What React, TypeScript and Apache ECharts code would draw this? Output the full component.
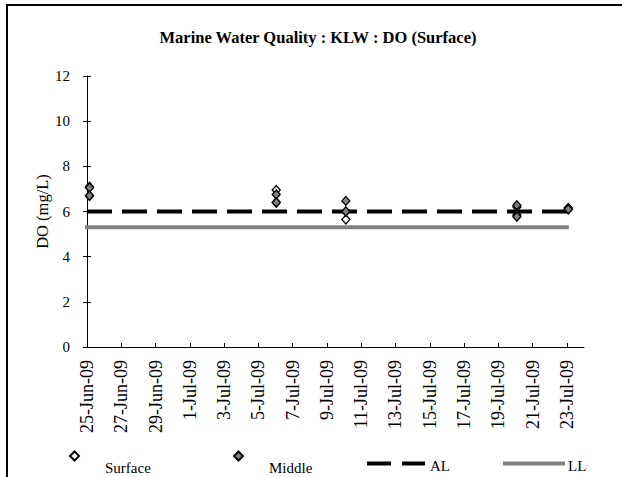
import React, { useEffect, useRef } from 'react';
import * as echarts from 'echarts';

const BASE_DATE = '2009-06-25T00:00:00Z';
const xTickLabels = ['25-Jun-09', '27-Jun-09', '29-Jun-09', '1-Jul-09', '3-Jul-09', '5-Jul-09', '7-Jul-09', '9-Jul-09', '11-Jul-09', '13-Jul-09', '15-Jul-09', '17-Jul-09', '19-Jul-09', '21-Jul-09', '23-Jul-09'];
const AXIS_MAX_DAYS = 29;

const sampleDates = [
  '2009-06-25T03:30:00Z', '2009-06-25T03:30:00Z',
  '2009-07-06T01:00:00Z', '2009-07-06T01:00:00Z',
  '2009-07-10T02:30:00Z', '2009-07-10T02:30:00Z',
  '2009-07-20T02:00:00Z', '2009-07-20T02:00:00Z',
  '2009-07-23T02:00:00Z', '2009-07-23T02:00:00Z',
];
const surfaceDO = [7.1, 6.7, 6.95, 6.4, 5.65, 6.0, 6.2, 5.85, 6.1, 6.15];
const middleDO = [7.05, 6.7, 6.75, 6.4, 6.47, 6.0, 6.28, 5.77, 6.15, 6.1];

const limitDates = ['2009-06-25T00:00:00Z', '2009-07-23T00:00:00Z'];
const alValues = [6, 6];
const llValues = [5.3, 5.3];

const dayOffset = (d: string) => (Date.parse(d) - Date.parse(BASE_DATE)) / 86400000;
const toPairs = (dates: string[], vals: number[]) => vals.map((v, i) => [dayOffset(dates[i]), v]);

const FONT = '"Liberation Serif", "Times New Roman", serif';

export default function App() {
  const ref = useRef<HTMLDivElement>(null);
  useEffect(() => {
    if (!ref.current) return;
    const chart = echarts.init(ref.current, undefined, { renderer: 'svg' });
    const tickValues = xTickLabels.map((_, i) => i * 2);
    const legendText = { fontFamily: FONT, fontSize: 15, color: '#000' };
    chart.setOption({
      animation: false,
      backgroundColor: '#fff',
      title: {
        text: 'Marine Water Quality : KLW : DO (Surface)',
        left: 313,
        textAlign: 'center',
        top: 24,
        textStyle: { fontFamily: FONT, fontSize: 16.5, fontWeight: 'bold', color: '#000' },
      },
      grid: { left: 87, right: 38, top: 76, bottom: 130 },
      xAxis: {
        type: 'value',
        min: 0,
        max: AXIS_MAX_DAYS,
        axisLine: { lineStyle: { color: '#000', width: 1 } },
        axisTick: { inside: true, length: 4, customValues: tickValues, lineStyle: { color: '#000' } },
        axisLabel: {
          customValues: tickValues,
          rotate: 90,
          margin: 13,
          fontFamily: FONT,
          fontSize: 18,
          color: '#000',
          formatter: (v: number) => xTickLabels[Math.round(v / 2)] ?? '',
        },
        splitLine: { show: false },
      },
      yAxis: [
        {
          type: 'value',
          min: 0,
          max: 12,
          interval: 2,
          name: 'DO (mg/L)',
          nameLocation: 'middle',
          nameGap: 36,
          nameMoveOverlap: false,
          nameTextStyle: { fontFamily: FONT, fontSize: 16.5, color: '#000' },
          axisLine: { show: true, lineStyle: { color: '#000', width: 1 } },
          axisTick: { show: true, length: 4, lineStyle: { color: '#000' } },
          axisLabel: { fontFamily: FONT, fontSize: 15, color: '#000', margin: 17 },
          splitLine: { show: false },
        },
        {
          type: 'value',
          min: 0,
          max: 12,
          interval: 2,
          position: 'left',
          axisLine: { show: false },
          axisTick: { show: true, inside: true, length: 4, lineStyle: { color: '#000' } },
          axisLabel: { show: false },
          splitLine: { show: false },
        },
      ],
      legend: [
        {
          data: ['Surface'], left: 69, top: 432, itemWidth: 9, itemHeight: 9, padding: 0,
          formatter: (n: string) => '\n' + n,
          textStyle: { ...legendText, lineHeight: 24, padding: [0, 0, 0, 21] },
        },
        {
          data: ['Middle'], left: 233, top: 432, itemWidth: 9, itemHeight: 9, padding: 0,
          formatter: (n: string) => '\n' + n,
          textStyle: { ...legendText, lineHeight: 24, padding: [0, 0, 0, 21] },
        },
        {
          data: ['AL'], left: 365, top: 454, itemWidth: 58, itemHeight: 8, padding: 0,
          itemStyle: { opacity: 0 },
          lineStyle: { type: [24, 11], width: 4, color: '#000', cap: 'butt' },
          formatter: (n: string) => '\n' + n,
          textStyle: { ...legendText, lineHeight: 4 },
        },
        {
          data: ['LL'], left: 503, top: 454, itemWidth: 58, itemHeight: 8, padding: 0,
          itemStyle: { opacity: 0 },
          lineStyle: { type: 'solid', width: 4, color: '#808080' },
          formatter: (n: string) => '\n' + n,
          textStyle: { ...legendText, lineHeight: 4 },
        },
      ],
      series: [
        {
          name: 'AL', type: 'line', data: toPairs(limitDates, alValues), symbol: 'none', z: 2,
          lineStyle: { color: '#000', width: 4, type: [25, 10], cap: 'butt' },
        },
        {
          name: 'LL', type: 'line', data: toPairs(limitDates, llValues), symbol: 'none', z: 2,
          lineStyle: { color: '#808080', width: 4, type: 'solid', cap: 'square' },
        },
        {
          name: 'Surface', type: 'scatter', data: toPairs(sampleDates, surfaceDO), symbol: 'diamond', symbolSize: [8, 9], z: 3,
          itemStyle: { color: '#fff', borderColor: '#000', borderWidth: 1.3, opacity: 1 },
        },
        {
          name: 'Middle', type: 'scatter', data: toPairs(sampleDates, middleDO), symbol: 'diamond', symbolSize: [8, 9], z: 4,
          itemStyle: { color: '#808080', borderColor: '#000', borderWidth: 1.3, opacity: 1 },
        },
      ],
      graphic: [
        { type: 'line', shape: { x1: 6, y1: 5, x2: 622, y2: 5 }, style: { stroke: '#000', lineWidth: 2 } },
        { type: 'line', shape: { x1: 7, y1: 4, x2: 7, y2: 477 }, style: { stroke: '#000', lineWidth: 2 } },
      ],
    });
    return () => chart.dispose();
  }, []);
  return <div ref={ref} style={{ position: 'fixed', left: 0, top: 0, width: 622, height: 477 }} />;
}
